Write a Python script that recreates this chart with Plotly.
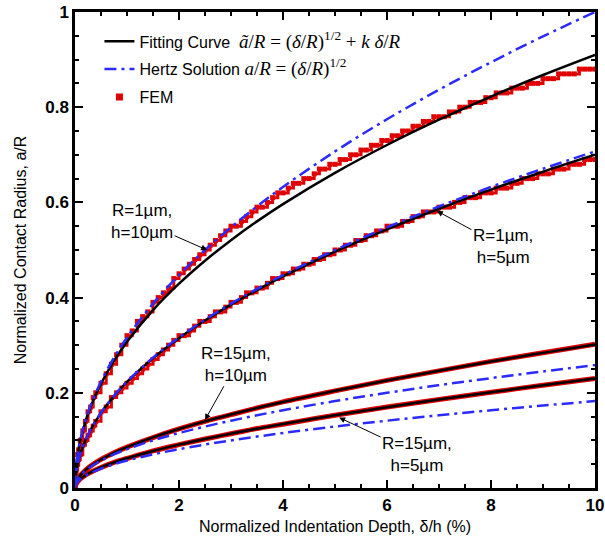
import plotly.graph_objects as go

# ---------------- data ----------------
curve_x = [0, 0.02, 0.05, 0.1, 0.2, 0.3, 0.5, 0.75, 1, 1.5, 2, 2.5, 3, 3.5, 4, 5, 6, 7, 8, 9, 10]

hertz_R1_h10 = [0, .0447, .0707, .1, .1414, .1732, .2236, .2739, .3162, .3873, .4472, .5, .5477, .5916, .6325, .7071, .7746, .8367, .8944, .9487, 1.0]
hertz_R1_h5 = [0, .0316, .05, .0707, .1, .1225, .1581, .1936, .2236, .2739, .3162, .3536, .3873, .4183, .4472, .5, .5477, .5916, .6325, .6708, .7071]
hertz_R15_h10 = [0, .0115, .0183, .0258, .0365, .0447, .0577, .0707, .0816, .1, .1155, .1291, .1414, .1528, .1633, .1826, .2, .216, .2309, .2449, .2582]
hertz_R15_h5 = [0, .0082, .0129, .0183, .0258, .0316, .0408, .05, .0577, .0707, .0816, .0913, .1, .108, .1155, .1291, .1414, .1528, .1633, .1732, .1826]

fit_R1_h10 = [0, .0445, .0702, .0991, .1396, .1705, .2191, .2671, .3072, .3738, .4292, .4775, .5207, .5601, .5965, .6621, .7206, .7737, .8224, .8677, .91]
fit_R1_h5 = [0, .0316, .05, .0706, .0999, .1223, .1578, .1931, .2229, .2729, .3148, .3518, .3852, .4159, .4444, .4965, .5435, .5867, .6269, .6645, .7001]
fit_R15_h10 = [0, .0116, .0185, .0263, .0374, .046, .0599, .074, .086, .1065, .1241, .1399, .1544, .1679, .1806, .2042, .226, .2464, .2656, .2839, .3015]
fit_R15_h5 = [0, .0083, .0131, .0187, .0268, .033, .0432, .0536, .0624, .0778, .0911, .1031, .1142, .1246, .1344, .1528, .1698, .1859, .2012, .2158, .2299]

fem_R15_h10 = [0, .012, .018, .026, .037, .046, .060, .074, .086, .106, .124, .140, .154, .168, .181, .204, .226, .246, .266, .284, .302]
fem_R15_h5 = [0, .008, .013, .019, .027, .033, .043, .054, .062, .078, .091, .103, .114, .125, .134, .153, .170, .186, .201, .216, .230]

fem_x = [0, 0.01, 0.02, 0.03, 0.05, 0.07, 0.1, 0.15, 0.2, 0.25, 0.3, 0.35, 0.4,
         0.5, 0.6, 0.7, 0.8, 0.9, 1.0,
         1.1, 1.2, 1.3, 1.4, 1.5, 1.6, 1.7, 1.8, 1.9, 2.0,
         2.1, 2.2, 2.3, 2.4, 2.5, 2.6, 2.7, 2.8, 2.9, 3.0,
         3.1, 3.2, 3.3, 3.4, 3.5, 3.6, 3.7, 3.8, 3.9, 4.0,
         4.1, 4.2, 4.3, 4.4, 4.5, 4.6, 4.7, 4.8, 4.9, 5.0,
         5.1, 5.2, 5.3, 5.4, 5.5, 5.6, 5.7, 5.8, 5.9, 6.0,
         6.1, 6.2, 6.3, 6.4, 6.5, 6.6, 6.7, 6.8, 6.9, 7.0,
         7.1, 7.2, 7.3, 7.4, 7.5, 7.6, 7.7, 7.8, 7.9, 8.0,
         8.1, 8.2, 8.3, 8.4, 8.5, 8.6, 8.7, 8.8, 8.9, 9.0,
         9.1, 9.2, 9.3, 9.4, 9.5, 9.6, 9.7, 9.8, 9.9, 10.0]

fem_R1_h10 = [0, .03, .04, .05, .07, .08, .10, .12, .14, .16, .17, .19, .20,
              .22, .24, .26, .28, .30, .32,
              .33, .35, .36, .37, .39, .40, .41, .42, .44, .45,
              .46, .47, .48, .49, .50, .51, .52, .53, .54, .55,
              .55, .56, .57, .58, .59, .59, .60, .61, .62, .62,
              .63, .64, .64, .65, .65, .66, .67, .67, .68, .68,
              .69, .69, .70, .70, .71, .71, .72, .72, .73, .73,
              .74, .74, .75, .75, .76, .76, .77, .77, .78, .78,
              .78, .79, .79, .80, .80, .81, .81, .81, .82, .82,
              .83, .83, .83, .84, .84, .84, .85, .85, .85, .86,
              .86, .86, .87, .87, .87, .87, .88, .88, .88, .88]

fem_R1_h5 = [0, .02, .03, .04, .05, .06, .07, .09, .10, .11, .12, .13, .14,
             .16, .17, .19, .20, .21, .22,
             .23, .24, .25, .26, .27, .28, .29, .30, .31, .32,
             .32, .33, .34, .35, .35, .36, .37, .37, .38, .39,
             .39, .40, .41, .41, .42, .42, .43, .44, .44, .45,
             .45, .46, .46, .47, .47, .48, .48, .49, .49, .50,
             .50, .51, .51, .52, .52, .53, .53, .54, .54, .55,
             .55, .55, .56, .56, .57, .57, .58, .58, .58, .59,
             .59, .59, .60, .60, .61, .61, .61, .62, .62, .62,
             .63, .63, .63, .64, .64, .65, .65, .65, .66, .66,
             .66, .67, .67, .67, .68, .68, .68, .69, .69, .69]

# ---------------- styles ----------------
RED = "#e00000"
BLUE = "#2b2bff"
BLACK = "#000000"
DASHDOT = "12px,5px,3px,5px"
SANS = "Liberation Sans, Arial, sans-serif"
SERIF = "Liberation Serif"

fig = go.Figure()

# FEM (drawn first, underneath)
for i, ys in enumerate([fem_R1_h10, fem_R1_h5]):
    fig.add_trace(go.Scatter(
        x=fem_x, y=ys, mode="lines+markers",
        line=dict(color=RED, width=3, shape="hv"),
        marker=dict(symbol="square", size=5, color=RED, line=dict(width=0)),
        name="FEM", legendgroup="fem", showlegend=False, hoverinfo="skip"))
for ys in [fem_R15_h10, fem_R15_h5]:
    fig.add_trace(go.Scatter(
        x=curve_x, y=ys, mode="lines", line=dict(color=RED, width=5, shape="spline"),
        legendgroup="fem", showlegend=False, hoverinfo="skip"))
# legend entry for FEM (square marker only)
fig.add_trace(go.Scatter(
    x=[None], y=[None], mode="markers",
    marker=dict(symbol="square", size=7, color=RED, line=dict(width=0)),
    name="FEM", legendgroup="fem", showlegend=True, legendrank=3))

fit_label = ('Fitting Curve  <span style="font-family:' + SERIF + '; font-size:19px">'
             '<i>ã</i>/<i>R</i> = (<i>δ</i>/<i>R</i>)<sup>1/2</sup> + <i>k δ</i>/<i>R</i></span>')
hertz_label = ('Hertz Solution <span style="font-family:' + SERIF + '; font-size:19px">'
               '<i>a</i>/<i>R</i> = (<i>δ</i>/<i>R</i>)<sup>1/2</sup></span>')

for i, ys in enumerate([fit_R1_h10, fit_R1_h5, fit_R15_h10, fit_R15_h5]):
    fig.add_trace(go.Scatter(
        x=curve_x, y=ys, mode="lines", line=dict(color=BLACK, width=2.5, shape="spline"),
        name=fit_label, legendgroup="fit", showlegend=(i == 0), legendrank=1))

for i, ys in enumerate([hertz_R1_h10, hertz_R1_h5, hertz_R15_h10, hertz_R15_h5]):
    fig.add_trace(go.Scatter(
        x=curve_x, y=ys, mode="lines",
        line=dict(color=BLUE, width=2.5, dash=DASHDOT, shape="spline"),
        name=hertz_label, legendgroup="hertz", showlegend=(i == 0), legendrank=2))

# ---------------- annotations (text at arrow tail) ----------------
labels = [
    dict(text="R=1µm,<br>h=10µm", tx=1.29, ty=0.56, tip=(2.54, 0.50)),
    dict(text="R=1µm,<br>h=5µm", tx=8.23, ty=0.507, tip=(6.96, 0.582)),
    dict(text="R=15µm,<br>h=10µm", tx=3.10, ty=0.26, tip=(2.5, 0.143)),
    dict(text="R=15µm,<br>h=5µm", tx=6.58, ty=0.071, tip=(5.08, 0.148)),
]
for lb in labels:
    fig.add_annotation(x=lb["tip"][0], y=lb["tip"][1], ax=lb["tx"], ay=lb["ty"],
                       axref="x", ayref="y", text=lb["text"], showarrow=True,
                       font=dict(family=SANS, size=17, color=BLACK), align="center",
                       arrowhead=2, arrowsize=1.2, arrowwidth=1, arrowcolor=BLACK,
                       standoff=0, startstandoff=0)

axis_common = dict(
    showline=True, linecolor=BLACK, linewidth=2.5, mirror="allticks",
    ticks="inside", ticklen=8, tickwidth=2, tickcolor=BLACK,
    showgrid=False, zeroline=False, automargin=False, ticklabeloverflow="allow",
    tickfont=dict(family=SANS, size=17, color=BLACK, weight="bold"),
)

fig.update_xaxes(range=[0, 10], dtick=2, tick0=0,
                 minor=dict(dtick=0.5, ticks="inside", ticklen=4, tickwidth=1.5, tickcolor=BLACK),
                 title=dict(text="Normalized Indentation Depth, δ/h (%)",
                            font=dict(family=SANS, size=16, color=BLACK), standoff=7),
                 **axis_common)
fig.update_yaxes(range=[0, 1], dtick=0.2, tick0=0,
                 minor=dict(dtick=0.05, ticks="inside", ticklen=4, tickwidth=1.5, tickcolor=BLACK),
                 title=dict(text="Normalized Contact Radius, a/R",
                            font=dict(family=SANS, size=16, color=BLACK), standoff=15),
                 **axis_common)

fig.update_layout(
    width=605, height=542,
    margin=dict(l=75, r=10, t=12, b=54, autoexpand=False),
    plot_bgcolor="white", paper_bgcolor="white",
    showlegend=True,
    legend=dict(x=0.047, y=0.974, xanchor="left", yanchor="top",
                bgcolor="rgba(0,0,0,0)", borderwidth=0,
                font=dict(family=SANS, size=16, color=BLACK),
                tracegroupgap=4, traceorder="grouped"),
)

# remove the default 8px page margin so the figure fills the window exactly
fig.write_html("out.html", config={"displayModeBar": False},
               post_script="document.body.style.margin='0';")
